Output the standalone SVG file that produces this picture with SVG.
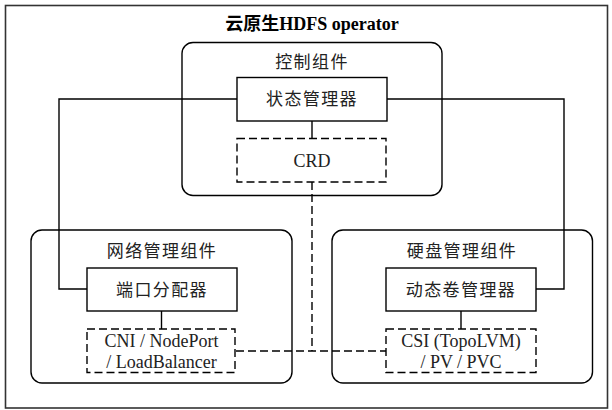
<svg xmlns="http://www.w3.org/2000/svg" width="612" height="410" viewBox="0 0 612 410">
  <style>
    .grp { fill: none; stroke: #000; stroke-width: 1.4; }
    .box { fill: #fff; stroke: #000; stroke-width: 1.4; }
    .dbox { fill: #fff; stroke: #000; stroke-width: 1.4; stroke-dasharray: 8 4; }
    .ln { fill: none; stroke: #000; stroke-width: 1.4; }
    .dln { fill: none; stroke: #000; stroke-width: 1.4; stroke-dasharray: 8 4; }
    .zh { font-family: "Liberation Serif", "Noto Sans CJK SC", serif; font-size: 17px; letter-spacing: 1.4px; fill: #222; text-anchor: middle; }
    .en { font-family: "Liberation Serif", "Noto Sans CJK SC", serif; font-size: 18px; fill: #222; text-anchor: middle; }
    .title { font-family: "Liberation Serif", "Noto Sans CJK SC", serif; font-size: 18px; font-weight: bold; fill: #000; text-anchor: middle; }
  </style>
  <rect x="0" y="0" width="612" height="410" fill="#fff"/>
  <rect id="frame" x="5.5" y="5.5" width="602" height="402.5" fill="none" stroke="#333" stroke-width="1.6"/>
  <text class="title" x="312" y="30">云原生HDFS operator</text>

  <g id="connectors">
    <polyline class="ln" points="237,99 59,99 59,289 87,289"/>
    <polyline class="ln" points="387,99 564,99 564,289 536,289"/>
    <line class="ln" x1="312" y1="121" x2="312" y2="138"/>
    <line class="ln" x1="161.5" y1="311" x2="161.5" y2="329"/>
    <line class="ln" x1="461" y1="311" x2="461" y2="329"/>
    <line class="dln" x1="312" y1="182" x2="312" y2="351"/>
    <line class="dln" x1="236" y1="351" x2="386" y2="351"/>
  </g>

  <g id="control-group">
    <rect class="grp" x="182" y="42.5" width="260" height="153" rx="11"/>
    <text class="zh" x="312" y="68">控制组件</text>
  </g>
  <g id="state-manager">
    <rect class="box" x="237" y="77.5" width="150" height="43.5"/>
    <text class="zh" x="312" y="105">状态管理器</text>
  </g>
  <g id="crd">
    <rect class="dbox" x="237" y="138.5" width="149" height="43.5"/>
    <text class="en" x="312" y="166.5">CRD</text>
  </g>

  <g id="network-group">
    <rect class="grp" x="31" y="230" width="261" height="153" rx="11"/>
    <text class="zh" x="162" y="257">网络管理组件</text>
  </g>
  <g id="port-allocator">
    <rect class="box" x="87" y="268" width="150" height="43"/>
    <text class="zh" x="162" y="295.5">端口分配器</text>
  </g>
  <g id="cni">
    <rect class="dbox" x="87" y="329" width="148" height="43.5"/>
    <text class="en" x="161.5" y="346.5">CNI / NodePort</text>
    <text class="en" x="161.5" y="368">/ LoadBalancer</text>
  </g>

  <g id="disk-group">
    <rect class="grp" x="332" y="230" width="260.5" height="153" rx="11"/>
    <text class="zh" x="462" y="257">硬盘管理组件</text>
  </g>
  <g id="volume-manager">
    <rect class="box" x="386" y="268" width="150" height="43"/>
    <text class="zh" x="461" y="295.5">动态卷管理器</text>
  </g>
  <g id="csi">
    <rect class="dbox" x="386" y="329" width="150" height="43.5"/>
    <text class="en" x="461" y="346.5">CSI (TopoLVM)</text>
    <text class="en" x="461" y="368">/ PV / PVC</text>
  </g>
</svg>
